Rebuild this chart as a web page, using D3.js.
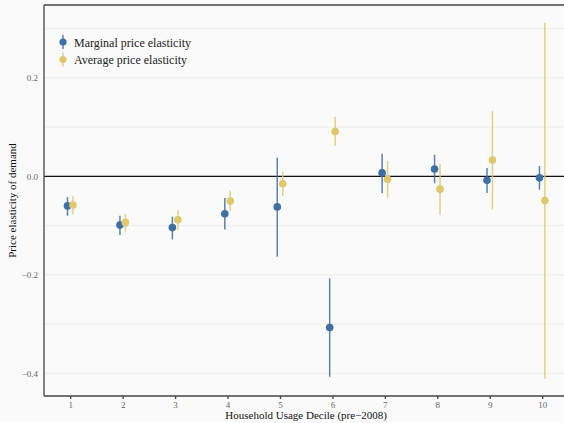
<!DOCTYPE html>
<html>
<head>
<meta charset="utf-8">
<script src="https://cdn.jsdelivr.net/npm/d3@7"></script>
<style>
  body { margin: 0; background: #fafafa; }
  svg { display: block; }
</style>
</head>
<body>
<svg id="chart"></svg>
<script>
const width = 564, height = 423;

// deciles of pre-2008 household usage
const deciles = [1, 2, 3, 4, 5, 6, 7, 8, 9, 10];

// marginal price elasticity: estimate + CI
const marginal = [-0.060, -0.099, -0.104, -0.076, -0.062, -0.307, 0.007, 0.015, -0.008, -0.003];
const marginalLo = [-0.080, -0.119, -0.128, -0.108, -0.163, -0.407, -0.034, -0.014, -0.034, -0.027];
const marginalHi = [-0.042, -0.080, -0.082, -0.044, 0.038, -0.207, 0.046, 0.044, 0.017, 0.021];

// average price elasticity: estimate + CI
const average = [-0.058, -0.094, -0.088, -0.050, -0.015, 0.091, -0.006, -0.026, 0.033, -0.049];
const averageLo = [-0.077, -0.112, -0.109, -0.071, -0.040, 0.062, -0.043, -0.078, -0.067, -0.411];
const averageHi = [-0.040, -0.076, -0.069, -0.029, 0.009, 0.121, 0.031, 0.025, 0.133, 0.312];

const yTicks = [0.2, 0.0, -0.2, -0.4];
const yGrid = [0.3, 0.2, 0.1, -0.1, -0.2, -0.3, -0.4];

const blue = "#3b6fa6", gold = "#e0c76a";

const svg = d3.select("#chart").attr("width", width).attr("height", height);

const plotLeft = 44, plotTop = 5, plotBottom = 396;

const x = d3.scaleLinear().domain([0.5, 10.5]).range([plotLeft, plotLeft + 10 * 52.44]);
const y = d3.scaleLinear().domain([-0.446, 0.348]).range([plotBottom, plotTop]);

// grid lines
svg.append("g")
  .selectAll("line")
  .data(yGrid)
  .join("line")
    .attr("x1", plotLeft).attr("x2", width)
    .attr("y1", d => y(d)).attr("y2", d => y(d))
    .attr("stroke", "#ececec")
    .attr("stroke-width", 1);

// zero line
svg.append("line")
  .attr("x1", plotLeft).attr("x2", width)
  .attr("y1", y(0)).attr("y2", y(0))
  .attr("stroke", "#111").attr("stroke-width", 1.1);

// top frame line
svg.append("line")
  .attr("x1", plotLeft).attr("x2", width)
  .attr("y1", plotTop).attr("y2", plotTop)
  .attr("stroke", "#444").attr("stroke-width", 1.3);

const xAxis = svg.append("g")
  .attr("transform", `translate(0,${plotBottom})`)
  .call(d3.axisBottom(x).tickValues(deciles).tickSize(3).tickPadding(3).tickFormat(d3.format("d")));
xAxis.select(".domain").remove();
xAxis.append("line")
  .attr("x1", plotLeft).attr("x2", width)
  .attr("stroke", "#444").attr("stroke-width", 1.3);
xAxis.selectAll(".tick line").attr("stroke", "#444").attr("stroke-width", 1.3);
xAxis.selectAll("text")
  .attr("fill", "#666")
  .style("font-family", "'Liberation Serif', serif")
  .style("font-size", "9px");

const yAxis = svg.append("g")
  .attr("transform", `translate(${plotLeft},0)`)
  .call(d3.axisLeft(y).tickValues(yTicks).tickSize(0).tickPadding(6).tickFormat(d3.format(".1f")));
yAxis.select(".domain").remove();
yAxis.append("line")
  .attr("y1", plotTop).attr("y2", plotBottom)
  .attr("stroke", "#444").attr("stroke-width", 1.3);
yAxis.selectAll("text")
  .attr("fill", "#666")
  .style("font-family", "'Liberation Serif', serif")
  .style("font-size", "9px")
  .text(d => d3.format(".1f")(d).replace("-", "\u2212"));

// axis titles
svg.append("text")
  .attr("x", x(5.5)).attr("y", 419)
  .attr("text-anchor", "middle")
  .style("font-family", "'Liberation Serif', serif")
  .style("font-size", "11px")
  .attr("fill", "#111")
  .text("Household Usage Decile (pre\u22122008)");

svg.append("text")
  .attr("transform", `translate(16,${(plotTop + plotBottom) / 2}) rotate(-90)`)
  .attr("text-anchor", "middle")
  .style("font-family", "'Liberation Serif', serif")
  .style("font-size", "11px")
  .attr("fill", "#111")
  .text("Price elasticity of demand");

// series
const series = [
  { name: "Marginal price elasticity", color: blue, off: -0.052, est: marginal, lo: marginalLo, hi: marginalHi },
  { name: "Average price elasticity", color: gold, off: 0.052, est: average, lo: averageLo, hi: averageHi }
];

const plot = svg.append("g");
series.forEach(s => {
  const pts = deciles.map((d, i) => ({ d: d, est: s.est[i], lo: s.lo[i], hi: s.hi[i] }));
  const g = plot.append("g");
  g.selectAll("line")
    .data(pts)
    .join("line")
      .attr("x1", p => x(p.d + s.off)).attr("x2", p => x(p.d + s.off))
      .attr("y1", p => y(p.lo)).attr("y2", p => y(p.hi))
      .attr("stroke", s.color)
      .attr("stroke-opacity", 0.85)
      .attr("stroke-width", 1.5);
  g.selectAll("circle")
    .data(pts)
    .join("circle")
      .attr("cx", p => x(p.d + s.off))
      .attr("cy", p => y(p.est))
      .attr("r", 3.8)
      .attr("fill", s.color);
});

// legend
const legend = svg.append("g").attr("transform", "translate(63,42)");
series.forEach((s, i) => {
  const row = legend.append("g").attr("transform", `translate(0,${i * 17.5})`);
  row.append("line")
    .attr("y1", -7).attr("y2", 7)
    .attr("stroke", s.color).attr("stroke-width", 1.5).attr("stroke-opacity", 0.85);
  row.append("circle").attr("r", 3.6).attr("fill", s.color);
  row.append("text")
    .attr("x", 11).attr("y", 4.5)
    .style("font-family", "'Liberation Serif', serif")
    .style("font-size", "12px")
    .attr("fill", "#222")
    .text(s.name);
});
</script>
</body>
</html>
